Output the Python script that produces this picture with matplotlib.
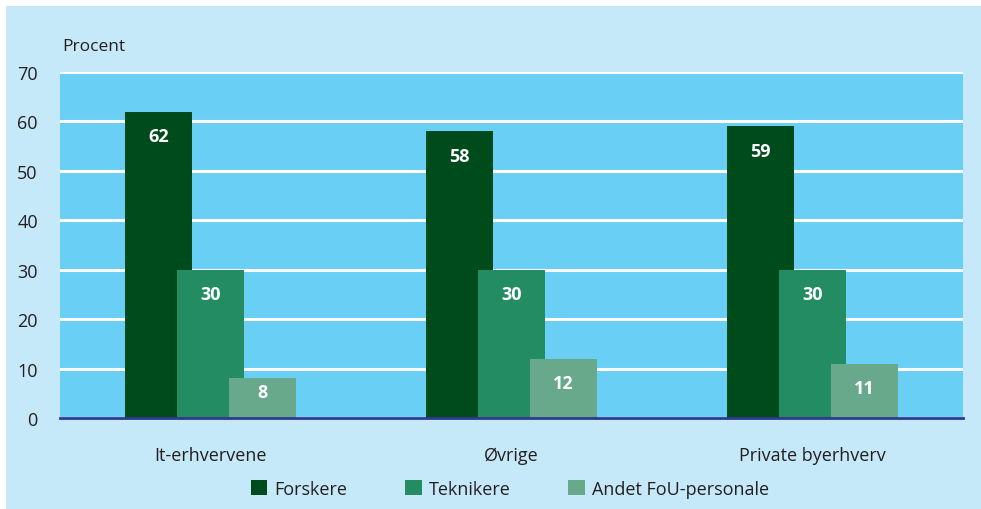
import matplotlib
matplotlib.use("Agg")
import matplotlib.pyplot as plt
from matplotlib.patches import Rectangle
import numpy as np

categories = ["It-erhvervene", "Øvrige", "Private byerhverv"]
series_names = ["Forskere", "Teknikere", "Andet FoU-personale"]
forskere = [62, 58, 59]
teknikere = [30, 30, 30]
andet = [8, 12, 11]
yticks = [0, 10, 20, 30, 40, 50, 60, 70]

colors = ["#004B1C", "#238C63", "#67A98A"]
outer_bg = "#C6E9F9"
plot_bg = "#6ACFF5"

plt.rcParams['font.family'] = ['Open Sans', 'DejaVu Sans']

W, H = 981, 510
fig = plt.figure(figsize=(W/100, H/100), dpi=100, facecolor="white")
fig.patches.append(Rectangle((6/W, 0), 1, 1 - 7/H, transform=fig.transFigure,
                             facecolor=outer_bg, edgecolor="none", zorder=-10))

ax = fig.add_axes([60/W, 1 - 419/H, 903/W, 346/H])
ax.set_facecolor(plot_bg)
ax.set_xlim(-0.5, 2.5)
ax.set_ylim(0, 70)

x = np.arange(len(categories))
bw = 0.22
off = 0.173
for i, (vals, c) in enumerate(zip([forskere, teknikere, andet], colors)):
    xs = x + (i - 1) * off
    ax.bar(xs, vals, width=bw, color=c, zorder=3 + i, label=series_names[i])
    for xi, v in zip(xs, vals):
        ly = v - 4.9 if v >= 10 else v * 0.66
        ax.text(xi, ly, f"{v}", ha="center", va="center", color="white",
                fontsize=13, fontweight="bold", zorder=10)

ax.set_yticks(yticks)
ax.yaxis.grid(True, color="white", linewidth=2.2, zorder=1)
ax.set_axisbelow(True)
for s in ["top", "right", "left"]:
    ax.spines[s].set_visible(False)
ax.spines["bottom"].set_color("#2E3A8C")
ax.spines["bottom"].set_linewidth(2)
ax.spines["bottom"].set_zorder(20)
ax.tick_params(axis="y", length=0, labelsize=13, colors="#231F20", pad=16)
ax.tick_params(axis="x", length=0, labelsize=13, colors="#231F20", pad=20)
ax.set_xticks(x)
ax.set_xticklabels(categories)

fig.text(62/W, 1 - 47/H, "Procent", fontsize=12.5, color="#231F20", va="center", ha="left")

leg = fig.legend(loc="center", bbox_to_anchor=(510/W, 1 - 490/H), ncol=3, frameon=False,
                 fontsize=13, handlelength=0.9, handleheight=0.9, handletextpad=0.4,
                 columnspacing=3.2, labelcolor="#231F20")

fig.savefig("out.png", dpi=100, facecolor=fig.get_facecolor())
